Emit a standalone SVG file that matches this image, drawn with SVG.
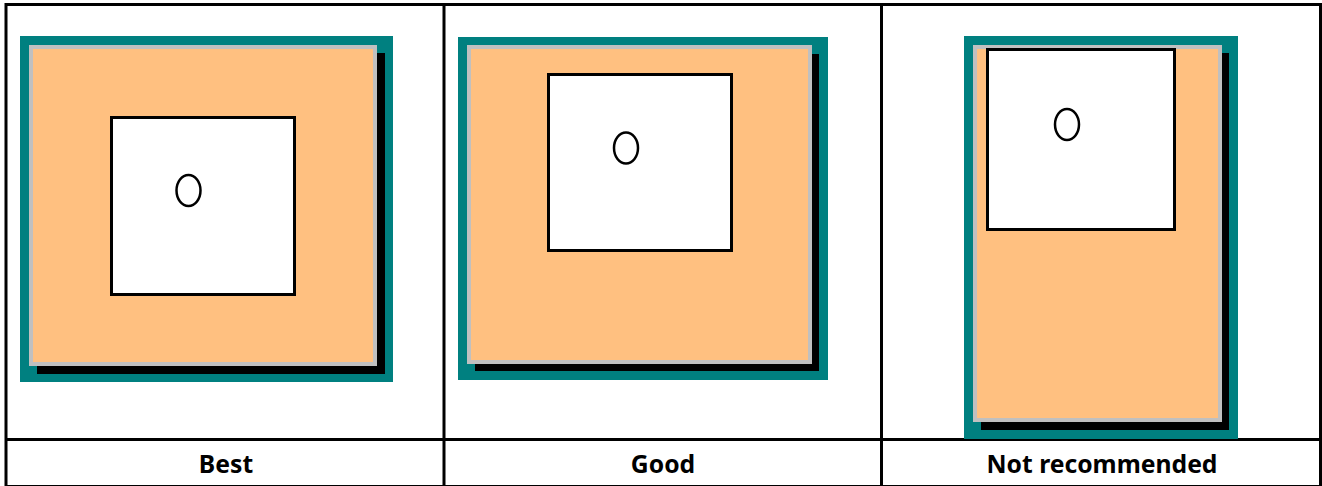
<svg xmlns="http://www.w3.org/2000/svg" width="1322" height="486" viewBox="0 0 1322 486">
<style>
.teal{fill:#008080}
.shadow{fill:#000}
.paper{fill:#FFC080;stroke:#C0C0C0;stroke-width:4}
.inner{fill:#fff;stroke:#000;stroke-width:3}
.hole{fill:#fff;stroke:#000;stroke-width:2.5}
.grid{fill:none;stroke:#000;stroke-width:3}
.lbl{font-family:"Noto Sans","Open Sans",sans-serif;font-weight:bold;font-size:24.7px;fill:#000;text-anchor:middle}
</style>
<rect width="1322" height="486" fill="#fff"/>
<g id="table">
<rect class="grid" x="6" y="4.5" width="1314.5" height="482"/>
<line class="grid" x1="6" y1="439.5" x2="1321" y2="439.5"/>
<line class="grid" x1="444" y1="4" x2="444" y2="486"/>
<line class="grid" x1="881.5" y1="4" x2="881.5" y2="486"/>
</g>
<g id="best">
<rect class="teal" x="20" y="36" width="373" height="346"/>
<rect class="shadow" x="37" y="53" width="348" height="321"/>
<rect class="paper" x="31" y="47" width="344" height="317"/>
<rect class="inner" x="111.5" y="117.5" width="183" height="177"/>
<ellipse class="hole" cx="188.5" cy="190.5" rx="12" ry="15.5"/>
<text class="lbl" x="226" y="473">Best</text>
</g>
<g id="good">
<rect class="teal" x="458" y="37" width="370" height="343"/>
<rect class="shadow" x="475" y="54" width="344" height="317"/>
<rect class="paper" x="469" y="47" width="341" height="315"/>
<rect class="inner" x="548.5" y="74.5" width="183" height="176"/>
<ellipse class="hole" cx="626" cy="148" rx="12" ry="15.5"/>
<text class="lbl" x="663" y="473">Good</text>
</g>
<g id="not-recommended">
<rect class="teal" x="964" y="36" width="274" height="403"/>
<rect class="shadow" x="981" y="53" width="248" height="377"/>
<rect class="paper" x="975" y="47" width="245" height="373"/>
<rect class="inner" x="987.5" y="49.5" width="187" height="180"/>
<ellipse class="hole" cx="1067" cy="124.5" rx="12" ry="15.5"/>
<text class="lbl" x="1102" y="473">Not recommended</text>
</g>
</svg>
